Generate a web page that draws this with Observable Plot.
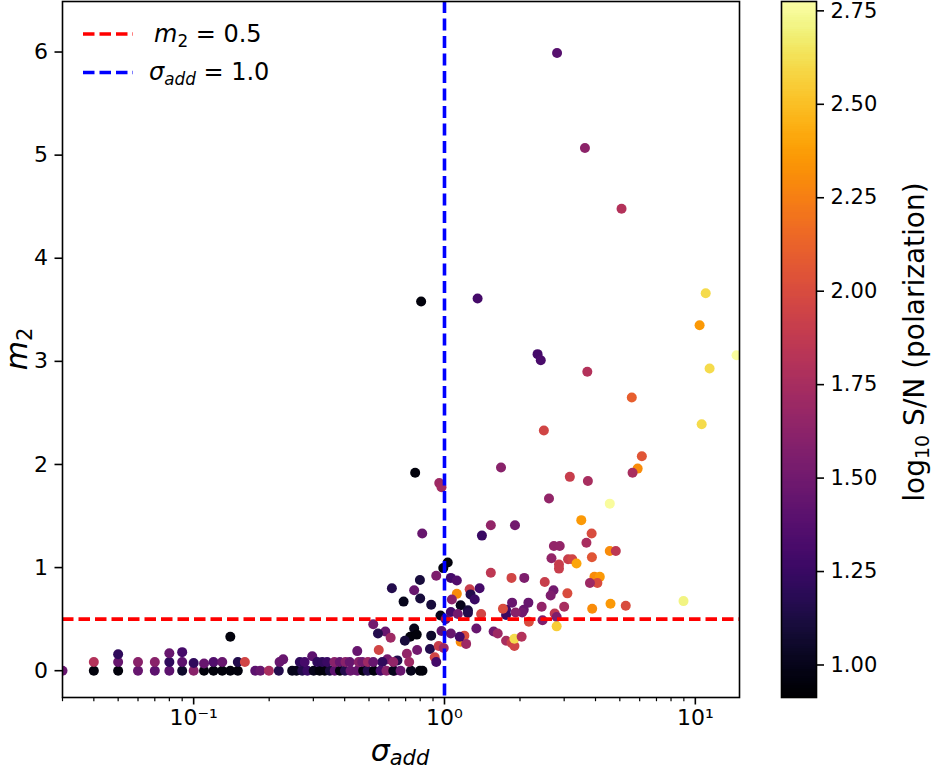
<!DOCTYPE html>
<html><head><meta charset="utf-8">
<script src="https://cdn.jsdelivr.net/npm/d3@7"></script>
<script src="https://cdn.jsdelivr.net/npm/@observablehq/plot@0.6"></script>
<style>
body{margin:0;background:#fff;}
#wrap{position:relative;width:932px;height:772px;overflow:hidden;background:#fff;}
#main,#cbar{position:absolute;top:0;}
#main{left:0;}
#cbar{left:760px;}
</style></head><body><div id="wrap"><div id="main"></div><div id="cbar"></div></div>
<script>
// sigma_add values (x), m2 values (y), log10 S/N (colour)
const sigma = [
  // upper / right
  2.81,3.63,5.08,0.807,1.355,11.0,10.4,14.6,11.4,2.35,2.42,3.71,5.58,10.6,2.49,6.12,5.89,5.62,0.764,1.68,
  0.953,0.973,3.16,3.73,4.56,2.61,0.815,1.53,1.91,1.41,3.51,3.86,3.68,2.73,2.88,4.56,4.82,2.67,3.11,3.23,
  3.36,3.87,2.86,2.86,3.96,4.16,4.07,3.80,2.51,2.72,2.65,3.09,2.08,1.85,1.53,3.00,2.44,4.59,5.28,3.88,
  8.97,2.75,2.80,2.46,2.80,2.17,1.86,2.16,2.07,2.04,1.92,1.76,1.76,1.71,1.40,1.38,1.57,1.63,1.76,1.85,
  1.90,1.90,2.03,1.34,
  // around sigma = 1
  1.03,0.989,0.927,0.798,0.617,0.757,0.80,0.687,0.885,1.06,1.12,1.12,1.07,1.26,1.27,1.32,1.16,1.24,1.24,1.06,
  1.13,0.964,1.01,1.06,0.973,1.20,1.16,1.22,1.15,0.757,0.73,0.775,0.695,0.885,0.581,0.61,0.778,0.708,0.875,0.948,
  0.993,0.914,0.927,0.735,0.798,0.817,0.723,0.632,0.649,0.592,0.565,
  // left columns
  0.03,0.04,0.04,0.05,0.05,0.05,0.06,0.06,0.07,0.07,0.08,0.08,0.08,0.09,0.09,0.09,0.10,0.10,0.11,0.11,
  0.12,0.12,0.13,0.13,0.14,0.14,0.15,0.15,0.16,
  // zero row
  0.176,0.1845,0.1995,0.2185,0.247,0.257,0.271,0.284,0.301,0.318,0.333,0.349,0.365,0.383,0.401,0.422,0.449,0.474,0.494,0.523,
  0.556,0.587,0.625,0.668,
  // second row
  0.220,0.2275,0.265,0.277,0.297,0.311,0.3255,0.3405,0.364,0.3825,0.403,0.419,0.455,0.470,0.495,0.520,0.547,0.625,0.449,0.520,
  0.543
];
const m2 = [
  5.99,5.07,4.48,3.58,3.61,3.66,3.35,3.06,2.93,3.07,3.01,2.90,2.65,2.39,2.33,2.08,1.96,1.92,1.92,1.97,
  1.82,1.78,1.88,1.84,1.62,1.67,1.33,1.41,1.41,1.31,1.46,1.33,1.24,1.21,1.21,1.16,1.16,1.09,1.08,1.08,
  1.04,1.10,1.03,0.99,0.91,0.91,0.85,0.85,0.86,0.78,0.73,0.75,0.90,0.90,0.95,0.62,0.62,0.65,0.63,0.60,
  0.675,0.555,0.52,0.49,0.43,0.475,0.66,0.66,0.59,0.565,0.565,0.59,0.54,0.60,0.55,0.80,0.38,0.36,0.29,0.27,
  0.24,0.31,0.33,0.41,
  1.05,0.995,0.92,0.88,0.80,0.78,0.70,0.67,0.64,0.90,0.875,0.745,0.69,0.79,0.74,0.69,0.635,0.585,0.56,0.57,
  0.55,0.535,0.50,0.36,0.385,0.34,0.28,0.26,0.33,0.41,0.33,0.35,0.29,0.34,0.38,0.32,0.20,0.165,0.21,0.24,
  0.22,0.13,0.085,0,0,0,0.085,0,0.10,0.11,0.085,
  0,0,0.085,0,0.085,0.16,0,0.085,0,0.085,0,0.085,0.17,0,0.085,0.18,0,0.075,0,0.07,
  0,0.085,0,0.085,0,0.33,0,0.085,0.085,
  0,0,0,0,0,0,0,0,0,0,0,0,0,0,0,0,0,0,0,0,
  0,0,0,0,
  0.085,0.11,0.085,0.085,0.14,0.085,0.085,0.085,0.085,0.085,0.085,0.085,0.085,0.085,0.085,0.085,0.20,0.085,0.19,0.45,
  0.36
];
const snr = [
  1.38,1.62,1.80,0.95,1.30,2.60,2.35,2.75,2.60,1.30,1.32,1.80,2.10,2.60,1.95,2.05,2.30,1.75,0.95,1.60,
  1.70,1.72,1.90,1.75,2.75,1.65,1.45,1.65,1.50,1.25,2.35,2.00,1.75,1.65,1.65,2.30,1.85,1.65,1.90,1.95,
  2.40,2.05,1.90,1.90,2.30,2.35,2.00,1.70,1.90,1.50,1.55,2.00,1.55,1.95,1.85,1.75,1.65,2.35,2.00,2.30,
  2.70,1.85,1.55,1.55,2.55,2.00,1.45,1.45,1.45,1.50,1.60,1.30,1.25,2.00,1.95,1.30,1.50,1.70,1.75,1.90,
  1.95,2.60,1.80,1.45,
  0.95,0.95,1.55,1.10,1.15,1.45,1.10,1.00,1.10,1.30,1.35,2.30,1.60,1.90,1.15,1.25,1.00,1.10,1.15,1.30,
  1.50,1.00,1.40,1.45,1.40,2.00,2.30,1.70,1.30,1.00,0.95,0.95,1.10,1.05,1.45,1.70,1.50,1.65,1.15,1.90,
  1.70,1.95,1.30,1.00,0.95,0.95,1.70,1.45,1.15,1.50,1.20,
  1.45,0.95,1.80,0.95,1.45,1.20,1.45,1.60,1.40,1.60,1.40,1.20,1.45,1.05,1.40,1.30,1.60,1.20,0.95,1.45,
  0.95,1.35,0.95,1.45,0.95,0.95,0.95,1.15,1.95,
  1.40,1.45,1.75,1.15,1.00,1.00,1.15,1.25,1.00,0.95,0.95,1.10,1.40,0.95,1.15,1.45,1.45,0.95,1.15,0.95,
  1.30,1.60,1.00,1.45,
  1.45,1.45,1.20,1.30,1.40,1.20,1.20,1.25,1.60,1.45,1.60,1.45,1.60,1.50,1.70,1.45,1.95,1.65,1.45,1.50,
  1.15
];
const m2Threshold = 0.5;
const sigmaThreshold = 1.0;
const yTicks = [0,1,2,3,4,5,6];
const xMajor = [0.1, 1, 10];
const xMajorLabels = ["10\u207B\u00B9", "10\u2070", "10\u00B9"];
const xMinor = [0.03,0.04,0.05,0.06,0.07,0.08,0.09,0.2,0.3,0.4,0.5,0.6,0.7,0.8,0.9,2,3,4,5,6,7,8,9];
const cTicks = [1.00,1.25,1.50,1.75,2.00,2.25,2.50,2.75];
const xDomain = [0.03, 15];
const yDomain = [-0.26, 6.49];
const cDomain = [0.909, 2.771];

const points = sigma.map((s, i) => ({sigma: s, m2: m2[i], snr: snr[i]}));
const FONT = "DejaVu Sans";
const FS = 22;      // tick labels
const LFS = 24;     // legend
const AFS = 30;     // axis labels

const chart = Plot.plot({
  width: 760, height: 772,
  marginLeft: 62, marginRight: 21, marginTop: 1, marginBottom: 75,
  style: {fontFamily: FONT, fontSize: FS + "px", color: "black", background: "white", overflow: "visible"},
  x: {type: "log", domain: xDomain, label: null},
  y: {domain: yDomain, label: null},
  color: {type: "linear", scheme: "inferno", domain: cDomain},
  marks: [
    Plot.dot(points, {x: "sigma", y: "m2", fill: "snr", r: 5, stroke: null, clip: true}),
    Plot.ruleY([m2Threshold], {stroke: "#ff0000", strokeWidth: 3.6, strokeDasharray: "11.5,5"}),
    Plot.ruleX([sigmaThreshold], {stroke: "#0000ff", strokeWidth: 3.6, strokeDasharray: "12,5.5"}),
    Plot.frame({stroke: "black", strokeWidth: 1.6}),
    Plot.axisY(yTicks, {tickSize: 7.5, tickPadding: 7, strokeWidth: 1.6, tickFormat: d => String(d), label: null}),
    Plot.axisX(xMajor, {tickSize: 7.5, tickPadding: 4, strokeWidth: 1.6, tickFormat: d => xMajorLabels[xMajor.indexOf(d)], label: null}),
    Plot.axisX(xMinor, {tickSize: 4.2, strokeWidth: 1.2, tickFormat: () => "", label: null})
  ]
});
document.getElementById("main").appendChild(chart);

const svg = d3.select(chart);
// legend
const leg = svg.append("g").attr("font-family", FONT).attr("font-size", LFS).attr("fill", "black").attr("text-anchor", "start");
leg.append("line").attr("x1", 83).attr("x2", 133).attr("y1", 34).attr("y2", 34)
  .attr("stroke", "#ff0000").attr("stroke-width", 3.6).attr("stroke-dasharray", "11.5,5");
leg.append("line").attr("x1", 83).attr("x2", 133).attr("y1", 72.5).attr("y2", 72.5)
  .attr("stroke", "#0000ff").attr("stroke-width", 3.6).attr("stroke-dasharray", "11.5,5");
const t1 = leg.append("text").attr("x", 154).attr("y", 42);
t1.append("tspan").attr("font-style", "italic").text("m");
t1.append("tspan").attr("font-size", LFS * 0.7).attr("dy", 5).text("2");
t1.append("tspan").attr("dy", -5).text(" = 0.5");
const t2 = leg.append("text").attr("x", 149).attr("y", 80);
t2.append("tspan").attr("font-style", "italic").text("\u03C3");
t2.append("tspan").attr("font-style", "italic").attr("font-size", LFS * 0.7).attr("dy", 5).text("add");
t2.append("tspan").attr("dy", -5).text(" = 1.0");
// x label
const xl = svg.append("text").attr("x", 400).attr("y", 761).attr("text-anchor", "middle")
  .attr("font-family", FONT).attr("font-size", AFS);
xl.append("tspan").attr("font-style", "italic").text("\u03C3");
xl.append("tspan").attr("font-style", "italic").attr("font-size", AFS * 0.7).attr("dy", 4).text("add");
// y label
const yl = svg.append("text").attr("transform", "translate(27,349) rotate(-90)").attr("text-anchor", "middle")
  .attr("font-family", FONT).attr("font-size", AFS);
yl.append("tspan").attr("font-style", "italic").text("m");
yl.append("tspan").attr("font-size", AFS * 0.7).attr("dy", 5).text("2");

// colorbar
const nGrad = 300;
const grad = d3.range(nGrad).map(i => {
  const a = cDomain[0] + (cDomain[1] - cDomain[0]) * i / nGrad;
  const b = cDomain[0] + (cDomain[1] - cDomain[0]) * (i + 1) / nGrad;
  return {a, b, v: (a + b) / 2};
});
const cbar = Plot.plot({
  width: 172, height: 772,
  marginLeft: 21, marginRight: 116, marginTop: 1, marginBottom: 75,
  style: {fontFamily: FONT, fontSize: "21px", color: "black", background: "white", overflow: "visible"},
  x: {domain: [0, 1], axis: null},
  y: {domain: cDomain, label: null},
  color: {type: "linear", scheme: "inferno", domain: cDomain},
  marks: [
    Plot.rect(grad, {x1: 0, x2: 1, y1: "a", y2: "b", fill: "v", shapeRendering: "crispEdges"}),
    Plot.frame({stroke: "black", strokeWidth: 1.6}),
    Plot.axisY(cTicks, {anchor: "right", tickSize: 7, tickPadding: 7, strokeWidth: 1.6, dy: 1.5, tickFormat: d3.format(".2f"), label: null})
  ]
});
document.getElementById("cbar").appendChild(cbar);
const cl = d3.select(cbar).append("text").attr("transform", "translate(164,342) rotate(-90)")
  .attr("text-anchor", "middle").attr("font-family", FONT).attr("font-size", 28);
cl.append("tspan").text("log");
cl.append("tspan").attr("font-size", 19).attr("dy", 5).text("10");
cl.append("tspan").attr("dy", -5).text(" S/N (polarization)");
</script>
</body></html>
